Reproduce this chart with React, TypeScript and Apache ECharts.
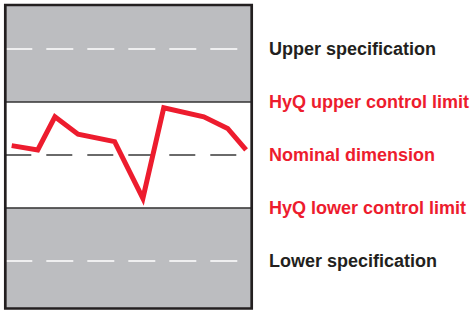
import React, { useEffect, useRef } from "react";
import * as echarts from "echarts";

// Measurement sequence (time position, deviation in control-limit units)
const sampleX = [2.6, 13.2, 20.2, 29.6, 44.5, 56.0, 64.5, 80.8, 90.5, 98.0];
const sampleY = [0.175, 0.094, 0.72, 0.39, 0.25, -0.82, 0.89, 0.72, 0.5, 0.094];

// Reference levels
const upperSpec = 2;
const upperControl = 1;
const nominal = 0;
const lowerControl = -1;
const lowerSpec = -2;

const yMin = -2.9;
const yMax = 2.83;

const labelValues = [upperSpec, upperControl, nominal, lowerControl, lowerSpec];
const labelTexts = [
  "Upper specification",
  "HyQ upper control limit",
  "Nominal dimension",
  "HyQ lower control limit",
  "Lower specification",
];
const labelIsRed = [false, true, true, true, false];

const RED = "#ed1c2e";
const DARK = "#231f20";
const GRAY = "#bcbdc0";

const GRID_LEFT = 5.3;
const GRID_TOP = 5;
const GRID_W = 246.4;
const GRID_H = 303.5;

export default function App() {
  const ref = useRef<HTMLDivElement>(null);

  useEffect(() => {
    if (!ref.current) return;
    const chart = echarts.init(ref.current, null, { renderer: "svg" });

    const idx = (v: number) => labelValues.findIndex((l) => Math.abs(l - v) < 1e-6);

    chart.setOption({
      animation: false,
      grid: {
        left: GRID_LEFT,
        top: GRID_TOP,
        width: GRID_W,
        height: GRID_H,
        show: false,
      },
      graphic: [
        {
          type: "rect",
          z: 100,
          silent: true,
          shape: { x: GRID_LEFT, y: GRID_TOP, width: GRID_W, height: GRID_H },
          style: { fill: "none", stroke: DARK, lineWidth: 2.7 },
        },
      ],
      xAxis: {
        type: "value",
        min: 0,
        max: 100,
        show: false,
      },
      yAxis: {
        type: "value",
        position: "right",
        min: yMin,
        max: yMax,
        axisLine: { show: false },
        axisTick: { show: false },
        splitLine: { show: false },
        axisLabel: {
          customValues: labelValues,
          margin: 18,
          fontFamily: "Liberation Sans, Arial, sans-serif",
          fontWeight: "bold",
          fontSize: 18,
          formatter: (v: number) => {
            const i = idx(v);
            return i >= 0 ? labelTexts[i] : "";
          },
          color: (v: number) => {
            const i = idx(Number(v));
            return i >= 0 && labelIsRed[i] ? RED : DARK;
          },
        },
      },
      series: [
        {
          type: "line",
          data: [],
          silent: true,
          z: 1,
          markArea: {
            silent: true,
            itemStyle: { color: GRAY },
            data: [
              [{ yAxis: upperControl }, { yAxis: yMax }],
              [{ yAxis: yMin }, { yAxis: lowerControl }],
            ],
          },
          markLine: {
            silent: true,
            symbol: "none",
            label: { show: false },
            data: [
              {
                yAxis: upperSpec,
                lineStyle: { color: "#ffffff", width: 1.5, type: [27, 14] },
              },
              {
                yAxis: lowerSpec,
                lineStyle: { color: "#ffffff", width: 1.5, type: [27, 14] },
              },
              {
                yAxis: nominal,
                lineStyle: { color: "#3a3a3a", width: 1.5, type: [26, 15] },
              },
              {
                yAxis: upperControl,
                lineStyle: { color: "#333333", width: 1.5, type: "solid" },
              },
              {
                yAxis: lowerControl,
                lineStyle: { color: "#333333", width: 1.5, type: "solid" },
              },
            ],
          },
        },
        {
          type: "line",
          z: 5,
          silent: true,
          symbol: "none",
          data: sampleX.map((x, i) => [x, sampleY[i]]),
          lineStyle: { color: RED, width: 5, join: "miter", cap: "butt" },
        },
      ],
    });

    return () => chart.dispose();
  }, []);

  return (
    <div
      ref={ref}
      style={{ position: "absolute", left: 0, top: 0, width: 472, height: 310 }}
    />
  );
}
